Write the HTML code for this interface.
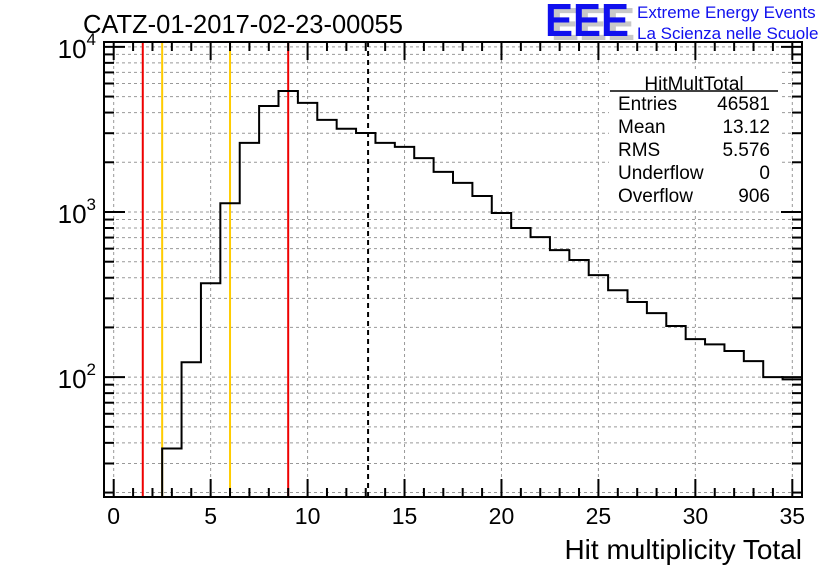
<!DOCTYPE html>
<html><head><meta charset="utf-8"><style>
body{margin:0;background:#fff}
svg{display:block;font-family:"Liberation Sans",sans-serif}
</style></head><body>
<svg id="c" width="836" height="572" xmlns="http://www.w3.org/2000/svg">
<text x="83" y="33" font-size="25.5">CATZ-01-2017-02-23-00055</text>
<g>
<text x="551" y="40" font-size="46" font-weight="bold" fill="#c8c8c8" textLength="84" lengthAdjust="spacingAndGlyphs">EEE</text>
<text x="545" y="36" font-size="46" font-weight="bold" fill="#1010ee" textLength="84" lengthAdjust="spacingAndGlyphs">EEE</text>
<text x="637" y="18" font-size="17" fill="#1010ee">Extreme Energy Events</text>
<text x="637" y="39" font-size="17" fill="#1010ee">La Scienza nelle Scuole</text>
</g>
<g id="grid"></g>
<g id="marks"></g>
<g>
<rect x="609" y="70" width="170" height="140" fill="#fff"/>
<text x="694" y="90" font-size="19" text-anchor="middle">HitMultTotal</text>
<line x1="610" y1="91" x2="778" y2="91" stroke="#000" stroke-width="1.5"/>
<g font-size="19">
<text x="618" y="110">Entries</text><text x="770" y="110" text-anchor="end">46581</text>
<text x="618" y="133">Mean</text><text x="770" y="133" text-anchor="end">13.12</text>
<text x="618" y="156">RMS</text><text x="770" y="156" text-anchor="end">5.576</text>
<text x="618" y="179">Underflow</text><text x="770" y="179" text-anchor="end">0</text>
<text x="618" y="202">Overflow</text><text x="770" y="202" text-anchor="end">906</text>
</g></g>
<g id="axes"></g>
<text x="802" y="559" font-size="28" text-anchor="end">Hit multiplicity Total</text>
</svg>
<script>
const binCenters=[3,4,5,6,7,8,9,10,11,12,13,14,15,16,17,18,19,20,21,22,23,24,25,26,27,28,29,30,31,32,33,34,35];
const counts=[37,123,370,1130,2620,4380,5400,4580,3610,3190,3010,2620,2480,2120,1750,1500,1250,986,800,705,588,512,415,336,285,244,204,170,158,144,125,100,97];
const xTicks=[0,5,10,15,20,25,30,35];
const redLines=[1.5,9];
const orangeLines=[2.5,6];
const meanLine=[13.12];
const L=104,R=802,T=42,B=497,X0=-0.5,X1=35.5,Y0=Math.log10(18.8),Y1=Math.log10(10700);
const X=v=>L+(v-X0)/(X1-X0)*(R-L);
const Y=v=>B-(Math.log10(v)-Y0)/(Y1-Y0)*(B-T);
const NS="http://www.w3.org/2000/svg";
function mk(t,a,p){const e=document.createElementNS(NS,t);for(const k in a)e.setAttribute(k,a[k]);p.appendChild(e);return e;}
const grid=document.getElementById('grid'),marks=document.getElementById('marks'),axes=document.getElementById('axes');
xTicks.forEach(v=>{const e=mk('line',{x1:X(v),x2:X(v),y1:T,y2:B,stroke:'#999','stroke-dasharray':'3,3'},grid);
});
for(let d=1;d<=4;d++)for(let m=1;m<10;m++){const v=m*Math.pow(10,d);if(v<18.8||v>10700)continue;
const e=mk('line',{x1:L,x2:R,y1:Y(v),y2:Y(v),stroke:'#999','stroke-dasharray':'3,3'},grid);
}
function vline(v,col,dash,name){const e=mk('line',{x1:X(v),x2:X(v),y1:T,y2:B,stroke:col,'stroke-width':2},marks);if(dash)e.setAttribute('stroke-dasharray',dash);
}
redLines.forEach(v=>vline(v,'#ee0000',null,'red-cut-line'));
orangeLines.forEach(v=>vline(v,'#ffcc00',null,'orange-cut-line'));
meanLine.forEach(v=>vline(v,'#000','5,4','mean-line'));
let d='M'+X(binCenters[0]-0.5)+','+B;
binCenters.forEach((c,i)=>{const y=Y(counts[i]);d+=' L'+X(c-0.5)+','+y+' L'+X(c+0.5)+','+y;});
const h=mk('path',{d:d,fill:'none',stroke:'#000','stroke-width':2},marks);

const fr=mk('rect',{x:L,y:T,width:R-L,height:B-T,fill:'none',stroke:'#000','stroke-width':2},axes);

for(let v=0;v<=35;v++){const big=v%5==0,len=big?18:9;
mk('line',{x1:X(v),x2:X(v),y1:B,y2:B-len,stroke:'#000','stroke-width':2},axes);
mk('line',{x1:X(v),x2:X(v),y1:T,y2:T+len,stroke:'#000','stroke-width':2},axes);}
xTicks.forEach(v=>{const t=mk('text',{x:X(v),y:524,'font-size':23,'text-anchor':'middle'},axes);t.textContent=v;
});
for(let dd=1;dd<=4;dd++)for(let m=1;m<10;m++){const v=m*Math.pow(10,dd);if(v<18.8||v>10700)continue;const len=m==1?21:10;
mk('line',{x1:L,x2:L+len,y1:Y(v),y2:Y(v),stroke:'#000','stroke-width':2},axes);
mk('line',{x1:R,x2:R-len,y1:Y(v),y2:Y(v),stroke:'#000','stroke-width':2},axes);}
[2,3,4].forEach(p=>{const t=mk('text',{x:96,y:Y(Math.pow(10,p))+11,'font-size':26,'text-anchor':'end'},axes);
t.innerHTML='10<tspan font-size="17" dy="-13">'+p+'</tspan>';
});
</script>
</body></html>
